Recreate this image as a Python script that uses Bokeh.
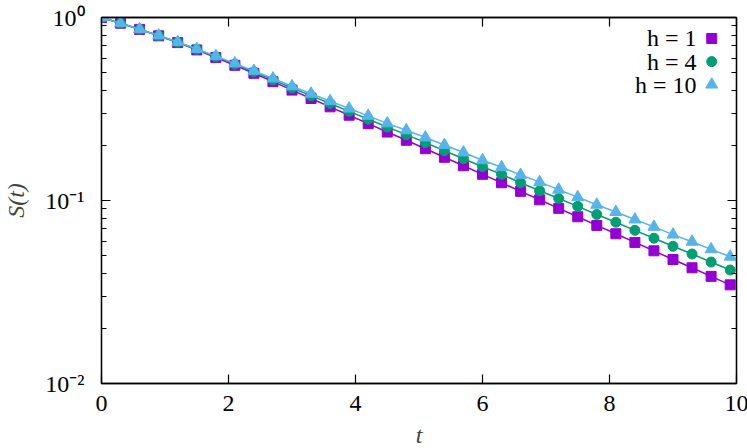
from bokeh.plotting import figure
from bokeh.models import (Range1d, LinearAxis, LogAxis, FixedTicker, Label)
from bokeh.embed import file_html
from bokeh.resources import INLINE

# ---- data -------------------------------------------------------------
t = [0.0, 0.3, 0.6, 0.9, 1.2, 1.5, 1.8, 2.1, 2.4, 2.7, 3.0, 3.3, 3.6, 3.9,
     4.2, 4.5, 4.8, 5.1, 5.4, 5.7, 6.0, 6.3, 6.6, 6.9, 7.2, 7.5, 7.8, 8.1,
     8.4, 8.7, 9.0, 9.3, 9.6, 9.9]
s_h1 = [1.000, 0.931, 0.861, 0.794, 0.729, 0.665, 0.605, 0.548, 0.4955, 0.446,
        0.401, 0.361, 0.325, 0.2924, 0.263, 0.2366, 0.2133, 0.1919, 0.1722,
        0.1549, 0.139, 0.125, 0.1122, 0.1009, 0.0906, 0.0815, 0.0731, 0.0658,
        0.0590, 0.0531, 0.0476, 0.0429, 0.0385, 0.0346]
s_h4 = [1.000, 0.931, 0.863, 0.796, 0.732, 0.670, 0.611, 0.556, 0.505, 0.456,
        0.412, 0.374, 0.339, 0.307, 0.278, 0.252, 0.229, 0.207, 0.187, 0.169,
        0.153, 0.139, 0.125, 0.113, 0.1026, 0.0929, 0.0839, 0.0761, 0.0687,
        0.0622, 0.0562, 0.0510, 0.0461, 0.0417]
s_h10 = [1.000, 0.931, 0.863, 0.798, 0.734, 0.673, 0.615, 0.561, 0.511, 0.464,
         0.421, 0.383, 0.349, 0.318, 0.290, 0.264, 0.242, 0.221, 0.201, 0.183,
         0.166, 0.152, 0.138, 0.126, 0.1146, 0.1043, 0.0948, 0.0865, 0.0787,
         0.0718, 0.0651, 0.0595, 0.0541, 0.0493]
series_labels = ["h = 1", "h = 4", "h = 10"]
x_ticks = [0, 2, 4, 6, 8, 10]
y_ticks = [0.01, 0.1, 1.0]
y_tick_labels = ["10\u207b\u00b2", "10\u207b\u00b9", "10\u2070"]
y_minor = [0.02, 0.03, 0.04, 0.05, 0.06, 0.07, 0.08, 0.09,
           0.2, 0.3, 0.4, 0.5, 0.6, 0.7, 0.8, 0.9]
x_title = "t"
y_title = "S(t)"

# ---- style ------------------------------------------------------------
colors = ["#9400D3", "#009E73", "#56B4E9"]
markers = ["square", "circle", "triangle"]
sizes = [10, 10, 12]
FONT = "Liberation Serif"
FS = "24px"
# key placement (layout, in axis units)
key_x_marker = 9.61
key_x_text = 9.37
key_y = [0.768, 0.574, 0.430]

p = figure(frame_width=635, frame_height=366, x_range=Range1d(0, 10),
           y_range=Range1d(0.01, 1.0), y_axis_type="log",
           output_backend="svg", toolbar_location=None,
           min_border_left=100, min_border_right=12, min_border_top=17,
           min_border_bottom=65, background_fill_color="white",
           border_fill_color="white")
p.grid.visible = False
p.outline_line_color = "black"
p.outline_line_width = 1.3

def style_axis(ax, labels=True):
    ax.axis_line_color = "black"
    ax.axis_line_width = 1.3
    ax.major_tick_in = 9
    ax.major_tick_out = 0
    ax.major_tick_line_width = 1.2
    ax.minor_tick_in = 5
    ax.minor_tick_out = 0
    ax.minor_tick_line_width = 1.0
    if labels:
        ax.major_label_text_font = FONT
        ax.major_label_text_font_size = FS
        ax.major_label_text_color = "black"
    else:
        ax.major_label_text_font_size = "1px"
        ax.major_label_standoff = 0

xa = p.xaxis[0]
xa.ticker = FixedTicker(ticks=x_ticks, minor_ticks=[])
style_axis(xa)
xa.minor_tick_line_color = None
xa.major_label_standoff = 12
xa.axis_label = x_title
xa.axis_label_text_font = FONT
xa.axis_label_text_font_size = FS
xa.axis_label_text_font_style = "italic"
xa.axis_label_standoff = 8

ya = p.yaxis[0]
ya.ticker = FixedTicker(ticks=y_ticks, minor_ticks=y_minor)
style_axis(ya)
ya.major_label_overrides = {v: s for v, s in zip(y_ticks, y_tick_labels)}
ya.major_label_standoff = 17
ya.axis_label = y_title
ya.axis_label_text_font = FONT
ya.axis_label_text_font_size = FS
ya.axis_label_text_font_style = "italic"
ya.axis_label_text_baseline = "bottom"
ya.axis_label_standoff = 13

top = LinearAxis(ticker=FixedTicker(ticks=x_ticks, minor_ticks=[]))
style_axis(top, labels=False)
top.minor_tick_line_color = None
top.major_label_overrides = {v: "" for v in x_ticks}
p.add_layout(top, "above")

right = LogAxis(ticker=FixedTicker(ticks=y_ticks, minor_ticks=y_minor))
style_axis(right, labels=False)
right.major_label_overrides = {v: "" for v in y_ticks}
p.add_layout(right, "right")

# ---- series -----------------------------------------------------------
for ys, c, m, sz in zip([s_h1, s_h4, s_h10], colors, markers, sizes):
    p.line(t, ys, line_color=c, line_width=1.5)
    p.scatter(t, ys, marker=m, size=sz, fill_color=c, line_color=c)

# ---- key (text left of marker, as in reference) -----------------------
for lab, c, m, sz, ky in zip(series_labels, colors, markers, sizes, key_y):
    p.scatter([key_x_marker], [ky], marker=m, size=sz, fill_color=c,
              line_color=c)
    p.add_layout(Label(x=key_x_text, y=ky, text=lab, text_align="right",
                       text_baseline="middle", text_font=FONT,
                       text_font_size=FS, text_color="black"))

open("out.html", "w").write(file_html(p, INLINE))
